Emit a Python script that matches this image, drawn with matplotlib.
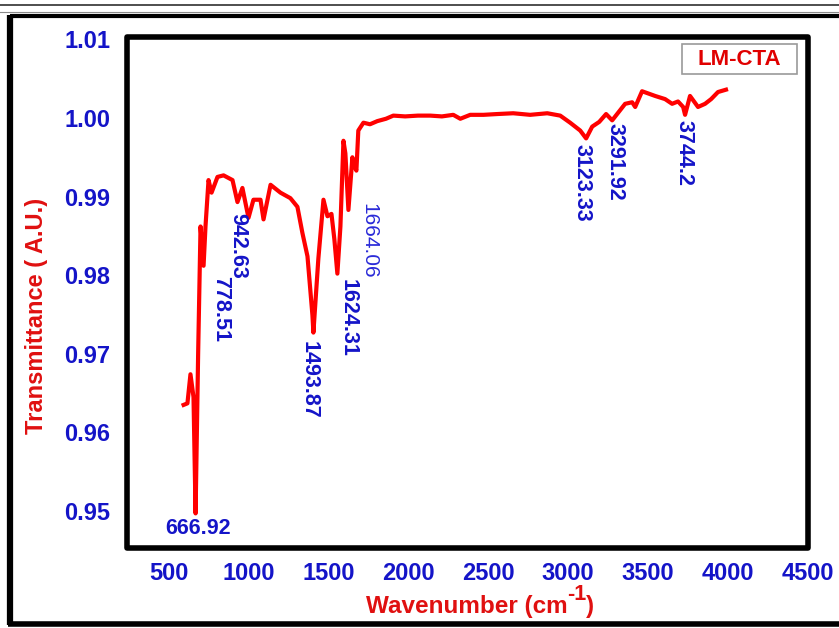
import matplotlib
matplotlib.use("Agg")
import matplotlib.pyplot as plt
from matplotlib.patches import Rectangle
from matplotlib.lines import Line2D

# ---- data ----
wavenumber = [594, 618, 637, 656, 669, 685, 700, 719, 731, 750, 769, 806, 844, 900, 931, 962,
              1000, 1031, 1075, 1094, 1138, 1200, 1262, 1306, 1337, 1369, 1400, 1406,
              1437, 1469, 1494, 1519, 1537, 1556, 1575, 1594, 1606, 1625, 1650, 1656,
              1675, 1687, 1719, 1760, 1806, 1860, 1906, 1980, 2060, 2137, 2210, 2281,
              2325, 2387, 2470, 2556, 2656, 2762, 2869, 2950, 3012, 3075, 3112, 3150,
              3194, 3237, 3275, 3356, 3400, 3419, 3462, 3544, 3606, 3650, 3687, 3719,
              3731, 3762, 3812, 3856, 3894, 3937, 3987]
transmittance = [0.9635, 0.9637, 0.9674, 0.9645, 0.9497, 0.9700, 0.9862, 0.9812, 0.9862, 0.9921,
                 0.9905, 0.9925, 0.9927, 0.9921, 0.9893, 0.9911, 0.9873, 0.9896, 0.9896,
                 0.9871, 0.9915, 0.9905, 0.9898, 0.9887, 0.9854, 0.9824, 0.9749, 0.9727,
                 0.9821, 0.9896, 0.9875, 0.9878, 0.9846, 0.9802, 0.9862, 0.9971, 0.9955,
                 0.9883, 0.9950, 0.9942, 0.9933, 0.9984, 0.9994, 0.9992, 0.9996, 0.9999,
                 1.0003, 1.0002, 1.0003, 1.0003, 1.0002, 1.0004, 0.9999, 1.0004, 1.0004,
                 1.0005, 1.0006, 1.0004, 1.0006, 1.0003, 0.9994, 0.9984, 0.9974, 0.9989,
                 0.9995, 1.0005, 0.9997, 1.0018, 1.0020, 1.0014, 1.0034, 1.0028, 1.0024,
                 1.0018, 1.0021, 1.0014, 1.0004, 1.0028, 1.0014, 1.0018, 1.0024, 1.0033,
                 1.0036]

peak_labels = ["666.92", "778.51", "942.63", "1493.87", "1624.31", "1664.06",
               "3123.33", "3291.92", "3744.2"]
peak_label_x = [684, 828, 934, 1378, 1622, 1753, 3086, 3292, 3724]
peak_label_y = [0.9478, 0.9757, 0.9837, 0.9667, 0.9746, 0.9844, 0.9917, 0.9944, 0.9956]
peak_label_rot = [0, -90, -90, -90, -90, -90, -90, -90, -90]
peak_label_bold = [True, True, True, True, True, False, True, True, True]

x_ticks = [500, 1000, 1500, 2000, 2500, 3000, 3500, 4000, 4500]
y_ticks = [0.95, 0.96, 0.97, 0.98, 0.99, 1.00, 1.01]
y_tick_labels = ["0.95", "0.96", "0.97", "0.98", "0.99", "1.00", "1.01"]

series_name = "LM-CTA"
x_title = "Wavenumber (cm"
x_title_sup = "-1"
x_title_end = ")"
y_title = "Transmittance ( A.U.)"

# ---- styling ----
plt.rcParams['font.family'] = ['Liberation Sans', 'DejaVu Sans']

BLUE = '#1414C8'
RED = '#FF0000'
LABEL_RED = '#E01010'

W, H = 839, 628
fig = plt.figure(figsize=(W / 100, H / 100), dpi=100)
fig.patch.set_facecolor('white')

def fx(px):
    return px / W

def fy(py):
    return 1 - py / H

ax = fig.add_axes([fx(127), fy(548), fx(808) - fx(127), fy(37) - fy(548)])
ax.plot(wavenumber, transmittance, color=RED, lw=3.0, solid_joinstyle='round')

ax.set_xlim(240, 4500)
ax.set_ylim(0.9453, 1.0103)
ax.set_xticks(x_ticks)
ax.set_xticklabels([str(t) for t in x_ticks])
ax.set_yticks(y_ticks)
ax.set_yticklabels(y_tick_labels)
ax.tick_params(axis='both', length=0, labelsize=17, labelcolor=BLUE)
ax.tick_params(axis='x', pad=10)
ax.tick_params(axis='y', pad=12)
for lab in ax.get_xticklabels() + ax.get_yticklabels():
    lab.set_fontweight('bold')
for sp in ax.spines.values():
    sp.set_visible(False)
ax.add_patch(Rectangle((0, 0), 1, 1, transform=ax.transAxes, fill=False,
                       edgecolor='black', lw=4.0, joinstyle='round', clip_on=False,
                       zorder=5))

for lab, xx, yy, rot, bold in zip(peak_labels, peak_label_x, peak_label_y,
                                  peak_label_rot, peak_label_bold):
    ax.text(xx, yy, lab, rotation=rot, ha='center', va='center',
            fontsize=15.5 if bold else 15, color=BLUE if bold else '#2A2AD8',
            fontweight='bold' if bold else 'normal')

# legend box
fig.add_artist(Rectangle((fx(682), fy(74)), fx(797) - fx(682), fy(44) - fy(74),
                         transform=fig.transFigure, fill=True, facecolor='white',
                         edgecolor='#9A9A9A', lw=1.2, zorder=6))
fig.text(fx(739.5), fy(59.5), series_name, ha='center', va='center', fontsize=16,
         fontweight='bold', color='#E00000', zorder=7)

# axis titles (x title built from pieces so the superscript uses a hyphen)
renderer = fig.canvas.get_renderer()
t_kw = dict(fontweight='bold', color=LABEL_RED)
t1 = fig.text(0, fy(613), x_title, ha='left', va='baseline', fontsize=17.5, **t_kw)
t2 = fig.text(0, fy(600), x_title_sup, ha='left', va='baseline', fontsize=15.5, **t_kw)
t3 = fig.text(0, fy(613), x_title_end, ha='left', va='baseline', fontsize=17.5, **t_kw)
w1 = t1.get_window_extent(renderer).width
w2 = t2.get_window_extent(renderer).width
w3 = t3.get_window_extent(renderer).width
total = w1 + w2 + w3
start = 480 - total / 2
t1.set_x(fx(start))
t2.set_x(fx(start + w1))
t3.set_x(fx(start + w1 + w2))

fig.text(fx(37), fy(316), y_title, ha='center', va='center',
         rotation=90, fontsize=17, fontweight='bold', color=LABEL_RED)

# outer page frame
fig.add_artist(Line2D([0, 1], [fy(4.5), fy(4.5)], transform=fig.transFigure,
                      color='#303030', lw=1.2))
fig.add_artist(Line2D([0, 1], [fy(12), fy(12)], transform=fig.transFigure,
                      color='#8A8A8A', lw=0.8))
fig.add_artist(Line2D([fx(10), 1], [fy(16), fy(16)], transform=fig.transFigure,
                      color='black', lw=3.0, solid_capstyle='butt'))
fig.add_artist(Line2D([fx(10), fx(10)], [fy(15), fy(625)], transform=fig.transFigure,
                      color='black', lw=4.5, solid_capstyle='butt'))
fig.add_artist(Line2D([fx(8), 1], [fy(624), fy(624)], transform=fig.transFigure,
                      color='black', lw=4.0, solid_capstyle='butt'))

fig.savefig('out.png', dpi=100, facecolor='white')
